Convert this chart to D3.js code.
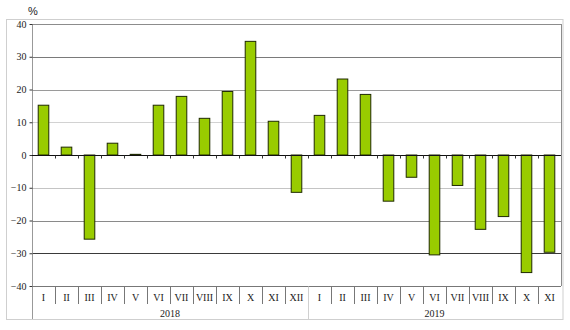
<!DOCTYPE html>
<html>
<head>
<meta charset="utf-8">
<script src="https://cdn.jsdelivr.net/npm/d3@7"></script>
<style>
  html, body { margin: 0; padding: 0; background: #fff; }
  svg { display: block; }
</style>
</head>
<body>
<svg id="chart" width="570" height="330"></svg>
<script>
// Monthly change, %, by year
const years = ["2018", "2019"];
const months2018 = ["I", "II", "III", "IV", "V", "VI", "VII", "VIII", "IX", "X", "XI", "XII"];
const months2019 = ["I", "II", "III", "IV", "V", "VI", "VII", "VIII", "IX", "X", "XI"];
const values2018 = [15.2, 2.4, -25.7, 3.6, 0.2, 15.2, 17.9, 11.2, 19.4, 34.7, 10.3, -11.4];
const values2019 = [12.1, 23.2, 18.5, -14.1, -6.8, -30.5, -9.3, -22.7, -18.8, -35.9, -29.7];
const yTicks = [-40, -30, -20, -10, 0, 10, 20, 30, 40];
const unitLabel = "%";

const rows = [
  ...months2018.map((m, i) => ({ year: years[0], month: m, value: values2018[i] })),
  ...months2019.map((m, i) => ({ year: years[1], month: m, value: values2019[i] }))
];
rows.forEach((d, i) => d.key = i);

const svg = d3.select("#chart");
const plotLeft = 32, plotRight = 561, plotTop = 24, plotBottom = 286;

const x = d3.scaleBand().domain(rows.map(d => d.key)).range([plotLeft, plotRight]).padding(0);
const y = d3.scaleLinear().domain([-40, 40]).range([plotBottom, plotTop]);
const barW = x.bandwidth() * 0.46;

// outer frame
svg.append("rect")
  .attr("x", 6.5).attr("y", 19.5).attr("width", 556.5).attr("height", 300)
  .attr("fill", "none").attr("stroke", "#cfcfcf");

// horizontal gridlines
const gridShade = { "-30": "#3a3a3a", "-20": "#8a8a8a", "-10": "#c4c4c4", "10": "#d2d2d2", "20": "#9a9a9a", "30": "#7a7a7a", "40": "#8c8c8c" };
svg.append("g").selectAll("line")
  .data(yTicks.filter(t => t !== 0 && t !== -40))
  .join("line")
  .attr("x1", plotLeft).attr("x2", plotRight)
  .attr("y1", d => Math.round(y(d)) + 0.5).attr("y2", d => Math.round(y(d)) + 0.5)
  .attr("stroke", d => gridShade[d] || "#999");

// plot-area right border
svg.append("line")
  .attr("x1", plotRight + 0.5).attr("x2", plotRight + 0.5)
  .attr("y1", plotTop).attr("y2", plotBottom)
  .attr("stroke", "#8c8c8c");

// bars
svg.append("g").selectAll("rect")
  .data(rows)
  .join("rect")
  .attr("x", d => x(d.key) + (x.bandwidth() - barW) / 2)
  .attr("y", d => y(Math.max(0, d.value)))
  .attr("width", barW)
  .attr("height", d => Math.max(0.8, Math.abs(y(d.value) - y(0))))
  .attr("fill", "#99cc00")
  .attr("stroke", "#1f2a00")
  .attr("stroke-width", 1);

// y axis
const yAxis = svg.append("g")
  .attr("transform", `translate(${plotLeft + 0.5},0)`)
  .call(d3.axisLeft(y).tickValues(yTicks).tickSize(3).tickPadding(3).tickFormat(d3.format("d")));
yAxis.select(".domain").attr("stroke", "#999").attr("d", `M0,${plotTop}V319`);
yAxis.selectAll(".tick line").attr("stroke", "#333");
yAxis.selectAll(".tick text")
  .attr("font-family", "'Liberation Serif', 'Times New Roman', serif")
  .attr("font-size", 10).attr("fill", "#222");

// zero line with category ticks
const zeroY = Math.round(y(0)) + 0.5;
svg.append("line")
  .attr("x1", plotLeft).attr("x2", plotRight)
  .attr("y1", zeroY).attr("y2", zeroY)
  .attr("stroke", "#111");
svg.append("g").selectAll("line")
  .data(rows.slice(1))
  .join("line")
  .attr("x1", d => Math.round(x(d.key)) + 0.5).attr("x2", d => Math.round(x(d.key)) + 0.5)
  .attr("y1", zeroY).attr("y2", zeroY + 3)
  .attr("stroke", "#333");

// category axis at the bottom
const axisY = Math.round(y(-40)) + 0.5;
svg.append("line")
  .attr("x1", plotLeft).attr("x2", plotRight)
  .attr("y1", axisY).attr("y2", axisY)
  .attr("stroke", "#777");

svg.append("g").selectAll("line")
  .data(rows.slice(1))
  .join("line")
  .attr("x1", d => Math.round(x(d.key)) + 0.5).attr("x2", d => Math.round(x(d.key)) + 0.5)
  .attr("y1", axisY).attr("y2", d => d.month === "I" ? 319 : 304)
  .attr("stroke", d => d.month === "I" ? "#d0d0d0" : "#777");

svg.append("g").selectAll("text")
  .data(rows)
  .join("text")
  .attr("x", d => x(d.key) + x.bandwidth() / 2)
  .attr("y", 300.5)
  .attr("text-anchor", "middle")
  .attr("font-family", "'Liberation Serif', 'Times New Roman', serif")
  .attr("font-size", 10).attr("fill", "#222")
  .text(d => d.month);

// year labels centred under their months
svg.append("g").selectAll("text")
  .data(years)
  .join("text")
  .attr("x", yr => {
    const ks = rows.filter(d => d.year === yr).map(d => d.key);
    return (x(ks[0]) + x(ks[ks.length - 1]) + x.bandwidth()) / 2;
  })
  .attr("y", 317)
  .attr("text-anchor", "middle")
  .attr("font-family", "'Liberation Serif', 'Times New Roman', serif")
  .attr("font-size", 10).attr("fill", "#222")
  .text(d => d);

// unit label
svg.append("text")
  .attr("x", 28).attr("y", 15)
  .attr("font-family", "'Liberation Sans', Arial, sans-serif")
  .attr("font-size", 11).attr("fill", "#222")
  .text(unitLabel);
</script>
</body>
</html>
